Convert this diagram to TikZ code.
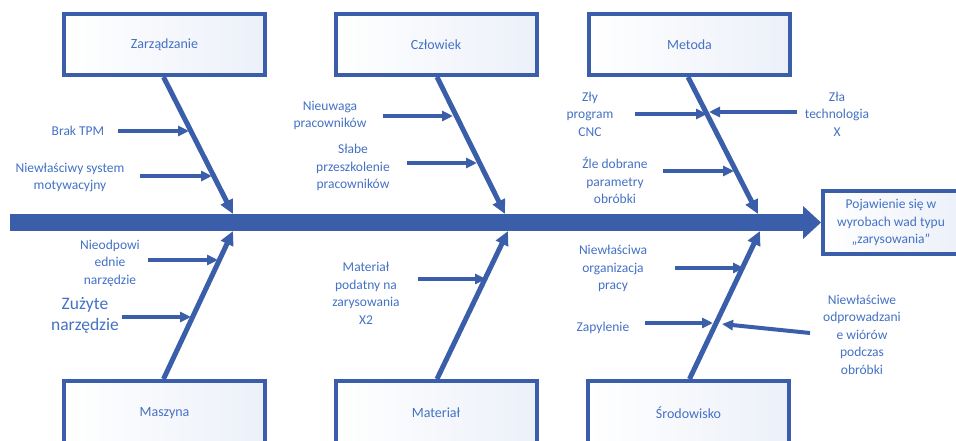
\documentclass[tikz,border=0pt]{standalone}
\usepackage{fontspec}
\setmainfont{Carlito}
\usetikzlibrary{arrows.meta}
\definecolor{lineblue}{RGB}{59,94,170}
\definecolor{txtblue}{RGB}{68,114,196}
\definecolor{boxtint}{RGB}{236,240,249}
\tikzset{
  catbox/.style={draw=lineblue, line width=4pt, left color=white, right color=boxtint,
    minimum width=201pt, minimum height=61pt, inner sep=0pt, text=txtblue,
    font=\fontsize{14}{17}\selectfont},
  bottombox/.style={catbox, minimum height=64pt},
  effbox/.style={draw=lineblue, line width=4pt, left color=white, right color=boxtint,
    minimum width=137pt, minimum height=63pt, inner sep=0pt},
  lbl/.style={text=txtblue, align=center, inner sep=0pt, font=\fontsize{13.5}{17.5}\selectfont},
  biglbl/.style={lbl, font=\fontsize{17.5}{21}\selectfont},
  bone/.style={draw=lineblue, line width=5pt, -{Triangle[length=14pt,width=13pt]}},
  cause/.style={draw=lineblue, line width=4pt, -{Triangle[length=11pt,width=10pt]}},
  spine/.style={draw=lineblue, line width=17pt, -{Triangle[length=18pt,width=32pt]}}
}
\begin{document}
\begin{tikzpicture}[x=1pt,y=-1pt]
\clip (0,0) rectangle (956,441);
\fill[white] (0,0) rectangle (956,441);

% effect box
\node[effbox] (eff) at (891.5,222.5) {};
\node[lbl] (efftxt) at (891,222.5) {Pojawienie się w\\wyrobach wad typu\\„zarysowania”};

% spine
\coordinate (spL) at (10,222.5);
\draw[spine] (spL) -- (eff.west);

% category boxes
\node[catbox] (zarz) at (164.5,44.5) {Zarządzanie};
\node[catbox] (czlo) at (436,44.5) {Człowiek};
\node[catbox] (meto) at (689.5,44.5) {Metoda};
\node[bottombox] (masz) at (164.5,413) {Maszyna};
\node[bottombox] (mate) at (436,413) {Materiał};
\node[bottombox] (srod) at (688.5,413) {Środowisko};

% bone ends on spine
\coordinate (zEnd) at (233,214);
\coordinate (cEnd) at (505,214);
\coordinate (mEnd) at (758,214);
\coordinate (maEnd) at (233,231);
\coordinate (mtEnd) at (508,231);
\coordinate (sEnd) at (760,231);

\draw[bone] (zarz.south) ++(-1,0) coordinate (zS) -- (zEnd);
\draw[bone] (czlo.south) ++(1,0) coordinate (cS) -- (cEnd);
\draw[bone] (meto.south) ++(-1.5,0) coordinate (mS) -- (mEnd);
\draw[bone] (masz.north) ++(-1,0) coordinate (maS) -- (maEnd);
\draw[bone] (mate.north) ++(1,0) coordinate (mtS) -- (mtEnd);
\draw[bone] (srod.north) ++(1,0) coordinate (sS) -- (sEnd);

% Zarzadzanie causes
\node[lbl] (z1) at (78,131) {Brak TPM};
\node[lbl] (z2) at (70,177.5) {Niewłaściwy system\\motywacyjny};
\coordinate (z1a) at (118,131); \coordinate (z1b) at (189,131);
\coordinate (z2a) at (140,176); \coordinate (z2b) at (212,176);
\draw[cause] (z1a) -- (z1b);
\draw[cause] (z2a) -- (z2b);

% Czlowiek causes
\node[lbl] (c1) at (330,115.5) {Nieuwaga\\pracowników};
\node[lbl] (c2) at (353,167.5) {Słabe\\przeszkolenie\\pracowników};
\coordinate (c1a) at (383,116); \coordinate (c1b) at (453,116);
\coordinate (c2a) at (407,163); \coordinate (c2b) at (477,163);
\draw[cause] (c1a) -- (c1b);
\draw[cause] (c2a) -- (c2b);

% Metoda causes
\node[lbl] (m1) at (590,114) {Zły\\program\\CNC};
\node[lbl] (m2) at (837,114) {Zła\\technologia\\X};
\node[lbl] (m3) at (615,180.5) {Źle dobrane\\parametry\\obróbki};
\coordinate (m1a) at (635,114); \coordinate (m1b) at (707,114);
\coordinate (m2a) at (797,112); \coordinate (m2b) at (709,112);
\coordinate (m3a) at (663,171); \coordinate (m3b) at (734,171);
\draw[cause] (m1a) -- (m1b);
\draw[cause] (m2a) -- (m2b);
\draw[cause] (m3a) -- (m3b);

% Maszyna causes
\node[lbl] (ma1) at (110,263) {Nieodpowi\\ednie\\narzędzie};
\node[biglbl] (ma2) at (85,315.5) {Zużyte\\narzędzie};
\coordinate (ma1a) at (148,260); \coordinate (ma1b) at (218,260);
\coordinate (ma2a) at (122,317); \coordinate (ma2b) at (191,317);
\draw[cause] (ma1a) -- (ma1b);
\draw[cause] (ma2a) -- (ma2b);

% Material causes
\node[lbl] (mt1) at (366,293.5) {Materiał\\podatny na\\zarysowania\\X2};
\coordinate (mt1a) at (418,279); \coordinate (mt1b) at (486,279);
\draw[cause] (mt1a) -- (mt1b);

% Srodowisko causes
\node[lbl] (s1) at (613,268.5) {Niewłaściwa\\organizacja\\pracy};
\node[lbl] (s2) at (603,328) {Zapylenie};
\node[lbl] (s3) at (862,334.5) {Niewłaściwe\\odprowadzani\\e wiórów\\podczas\\obróbki};
\coordinate (s1a) at (675,268); \coordinate (s1b) at (744,268);
\coordinate (s2a) at (645,323); \coordinate (s2b) at (713,323);
\coordinate (s3a) at (810,333); \coordinate (s3b) at (722,324);
\draw[cause] (s1a) -- (s1b);
\draw[cause] (s2a) -- (s2b);
\draw[cause] (s3a) -- (s3b);
\end{tikzpicture}
\end{document}
